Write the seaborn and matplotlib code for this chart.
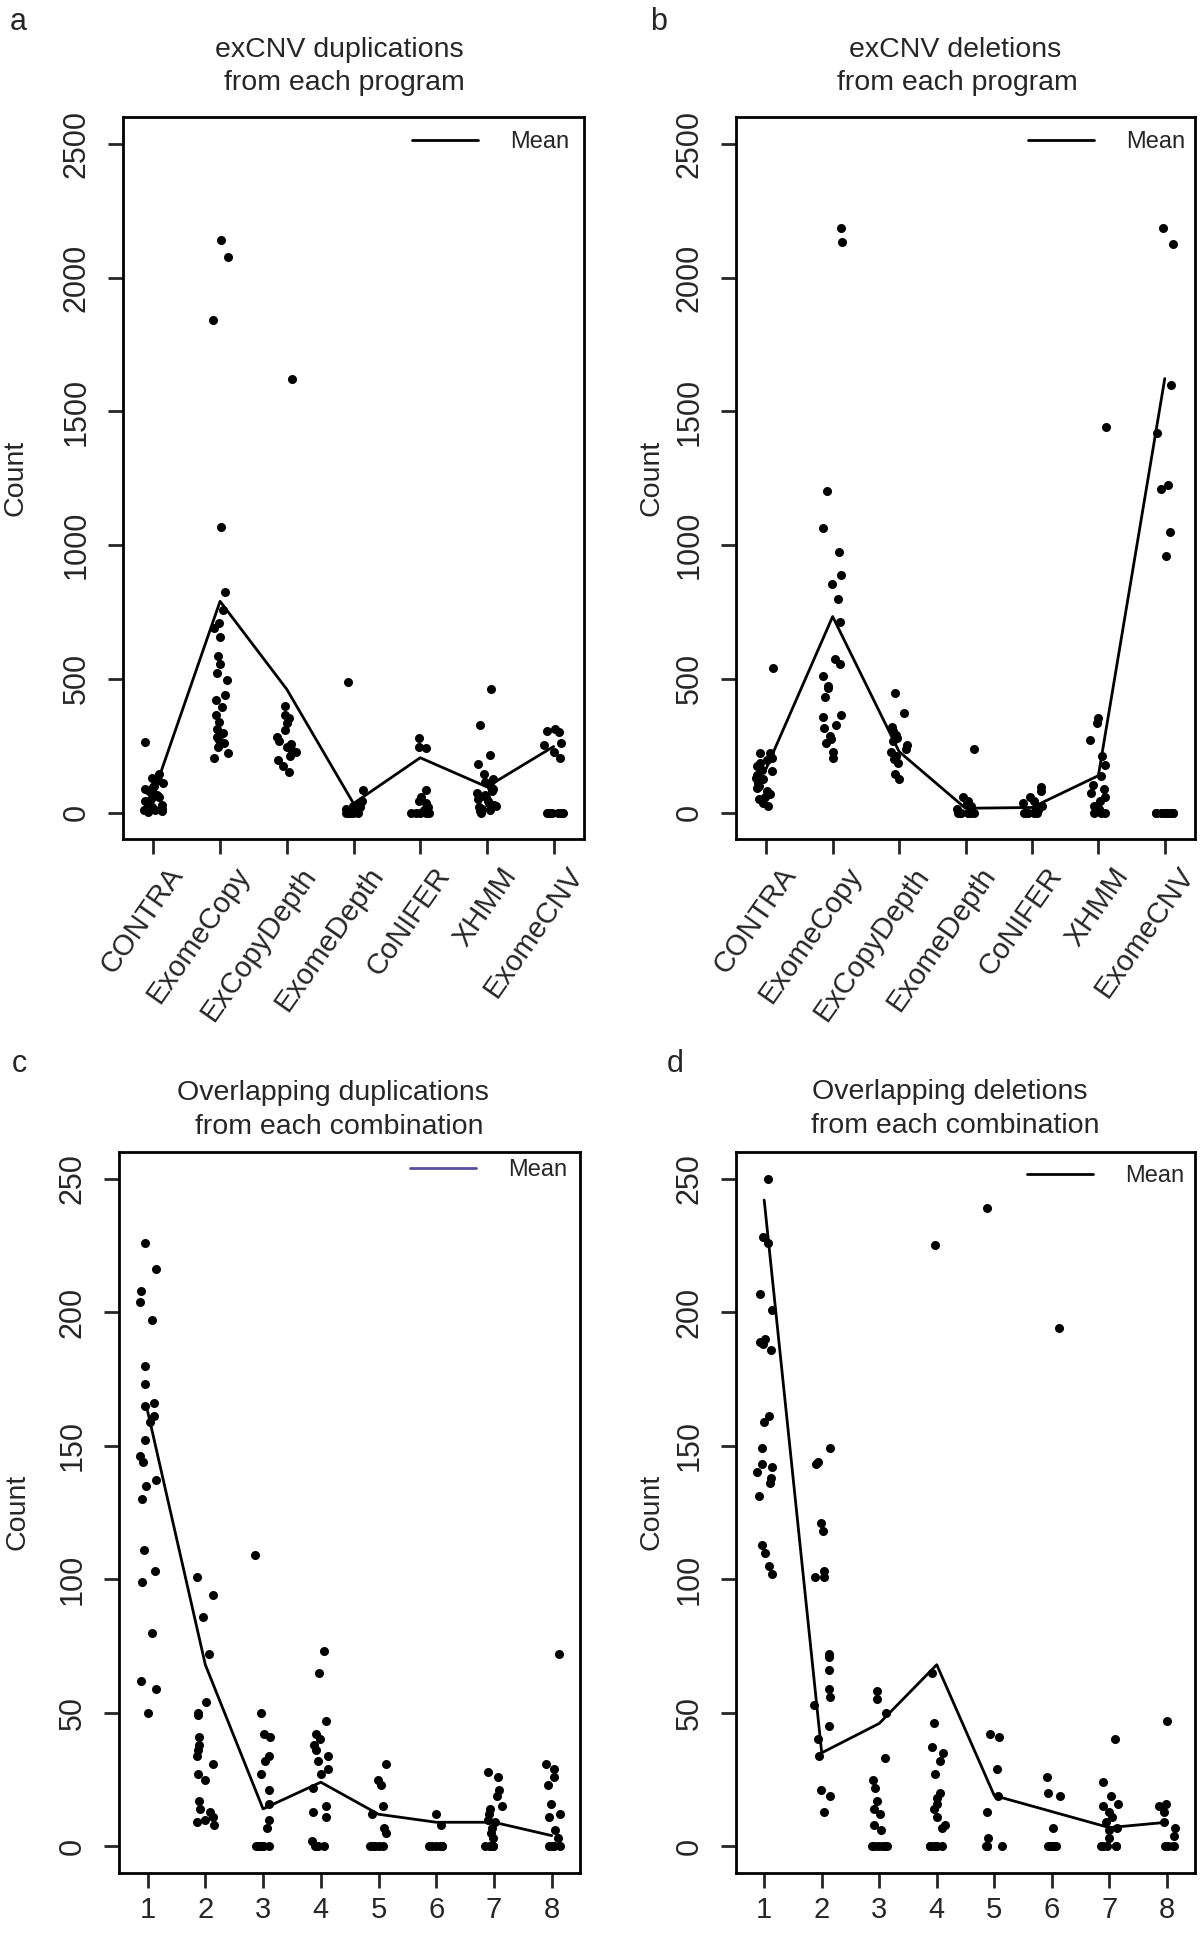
import matplotlib
matplotlib.use("Agg")
import matplotlib.pyplot as plt
import seaborn as sns
import pandas as pd
import numpy as np
from matplotlib.lines import Line2D
from matplotlib.transforms import ScaledTranslation

# --- data -----------------------------------------------------------------
programs = ["CONTRA", "ExomeCopy", "ExCopyDepth", "ExomeDepth", "CoNIFER", "XHMM", "ExomeCNV"]
combos = ["1", "2", "3", "4", "5", "6", "7", "8"]

# a: exCNV duplications per program (one list per program, same order as programs)
dup_counts = [
    [262, 145, 130, 120, 110, 100, 95, 88, 80, 72, 65, 58, 50, 45, 38, 30, 25, 20, 15, 10, 8, 5, 3],
    [2141, 2079, 1842, 1067, 825, 759, 710, 690, 655, 585, 554, 523, 497, 438, 420, 396, 363, 339,
     311, 298, 283, 270, 259, 247, 224, 205],
    [1620, 399, 363, 352, 334, 309, 283, 267, 256, 247, 236, 228, 213, 197, 174, 151],
    [488, 84, 45, 34, 25, 20, 12, 8, 5, 0, 0, 0, 0, 0, 0, 0],
    [280, 244, 240, 85, 60, 45, 35, 20, 10, 5, 0, 0, 0, 0, 0, 0],
    [461, 326, 216, 182, 143, 127, 115, 105, 96, 88, 81, 73, 65, 57, 50, 42, 35, 30, 24, 19, 12, 8, 4, 0],
    [314, 305, 300, 259, 252, 228, 205, 0, 0, 0, 0, 0, 0, 0, 0],
]
dup_means = [70, 790, 461, 34, 205, 96, 247]

# b: exCNV deletions per program
del_counts = [
    [539, 224, 221, 205, 197, 185, 174, 160, 154, 140, 130, 127, 112, 100, 92, 81, 70, 57, 50, 35, 23],
    [2185, 2134, 1202, 1064, 974, 888, 854, 798, 713, 573, 554, 511, 474, 466, 433, 363, 356, 329,
     317, 286, 275, 259, 228, 205],
    [446, 373, 321, 306, 290, 278, 267, 252, 236, 228, 213, 200, 185, 143, 124],
    [236, 57, 45, 34, 23, 12, 5, 0, 0, 0, 0, 0, 0, 0],
    [96, 81, 57, 45, 34, 23, 11, 5, 0, 0, 0, 0, 0, 0],
    [1440, 352, 334, 270, 213, 179, 135, 104, 88, 73, 57, 42, 26, 14, 0, 0, 0],
    [2185, 2126, 1598, 1420, 1225, 1210, 1048, 958, 0, 0, 0, 0, 0, 0, 0, 0, 0, 0],
]
del_means = [165, 733, 228, 16, 19, 138, 1623]

# c: overlapping duplications per combination size
ovl_dup_counts = [
    [226, 216, 208, 204, 197, 180, 173, 166, 165, 161, 159, 152, 146, 144, 137, 135, 130, 111, 103,
     99, 80, 62, 59, 50],
    [101, 94, 86, 72, 54, 50, 49, 41, 38, 36, 34, 31, 27, 25, 17, 14, 13, 11, 10, 9, 8],
    [109, 50, 42, 41, 34, 32, 27, 21, 16, 10, 7, 0, 0, 0, 0, 0, 0],
    [73, 65, 47, 42, 40, 38, 36, 34, 32, 29, 27, 22, 15, 13, 11, 2, 0, 0, 0],
    [31, 25, 23, 15, 12, 7, 5, 0, 0, 0, 0, 0],
    [12, 8, 0, 0, 0, 0, 0, 0],
    [28, 26, 21, 19, 15, 14, 12, 10, 9, 7, 5, 3, 0, 0, 0, 0, 0],
    [72, 31, 29, 26, 23, 16, 12, 11, 6, 3, 0, 0, 0, 0],
]
ovl_dup_means = [163, 68, 14, 24, 12, 9, 9, 4]

# d: overlapping deletions per combination size
ovl_del_counts = [
    [250, 228, 226, 207, 201, 190, 189, 188, 186, 161, 159, 149, 143, 142, 140, 138, 136, 131, 113,
     110, 105, 102],
    [149, 144, 143, 121, 118, 103, 101, 101, 72, 71, 66, 59, 56, 53, 45, 40, 34, 21, 19, 13],
    [58, 55, 50, 33, 25, 22, 17, 14, 12, 8, 6, 0, 0, 0, 0, 0, 0],
    [225, 65, 46, 37, 35, 32, 27, 20, 18, 16, 14, 11, 8, 7, 0, 0, 0, 0, 0, 0],
    [239, 42, 41, 29, 19, 13, 3, 0, 0, 0, 0],
    [194, 26, 20, 19, 7, 0, 0, 0, 0, 0, 0],
    [40, 24, 19, 16, 15, 13, 11, 9, 7, 6, 3, 0, 0, 0, 0, 0],
    [47, 16, 15, 13, 9, 7, 4, 0, 0, 0, 0],
]
ovl_del_means = [242, 35, 46, 68, 19, 13, 7, 9]

# --- style ----------------------------------------------------------------
sns.set_style("ticks")
plt.rcParams["font.family"] = ["Liberation Sans", "DejaVu Sans"]
plt.rcParams["axes.edgecolor"] = "black"
plt.rcParams["axes.linewidth"] = 2

W, H = 1200, 1935
fig = plt.figure(figsize=(W / 100, H / 100), dpi=100)
np.random.seed(7)


def px_axes(left, top, right, bottom):
    return fig.add_axes([left / W, 1 - bottom / H, (right - left) / W, (bottom - top) / H])


def draw_panel(ax, cats, values, means, ylim, yticks, legend_xy, legend_color, rotated):
    rows = [(c, v) for c, vals in zip(cats, values) for v in vals]
    df = pd.DataFrame(rows, columns=["group", "count"])
    sns.stripplot(data=df, x="group", y="count", order=cats, color="black", size=6.5,
                  jitter=0.15, linewidth=0, ax=ax, zorder=3)
    sns.lineplot(x=np.arange(len(cats)), y=means, color="black", lw=2, ax=ax, legend=False, zorder=2)

    n = len(cats)
    pad_x = 0.455 if n == 7 else 0.49
    ax.set_xlim(-pad_x, n - 1 + pad_x)
    ax.set_ylim(*ylim)
    ax.set_xlabel("")
    ax.set_ylabel("")
    ax.set_yticks(yticks)
    ax.set_yticklabels([str(t) for t in yticks], rotation=90, va="center")
    ax.tick_params(axis="y", direction="out", length=10.8, width=2, labelsize=22, pad=12)
    ax.set_xticks(np.arange(n))
    if rotated:
        ax.set_xticklabels(cats, rotation=55, ha="right", va="center",
                           rotation_mode="anchor", fontsize=21)
        ax.tick_params(axis="x", direction="out", length=10.8, width=2, pad=11.5)
        shift = ScaledTranslation(0.24, 0, fig.dpi_scale_trans)
        for lab in ax.get_xticklabels():
            lab.set_transform(lab.get_transform() + shift)
    else:
        ax.set_xticklabels(cats, fontsize=21)
        ax.tick_params(axis="x", direction="out", length=10.8, width=2, pad=6)
    for sp in ax.spines.values():
        sp.set_visible(True)
        sp.set_linewidth(2)
        sp.set_color("black")

    handle = Line2D([], [], color=legend_color, lw=2)
    ax.legend([handle], ["Mean"], loc="center right", bbox_to_anchor=legend_xy, frameon=False,
              fontsize=17, handlelength=2.78, handletextpad=1.36, borderpad=0, borderaxespad=0)


ax_a = px_axes(123, 117.3, 584, 839.3)
ax_b = px_axes(736, 117.3, 1195, 839.3)
ax_c = px_axes(119.3, 1152, 580, 1873)
ax_d = px_axes(736, 1152, 1195, 1873)

big_ticks = [0, 500, 1000, 1500, 2000, 2500]
small_ticks = [0, 50, 100, 150, 200, 250]

draw_panel(ax_a, programs, dup_counts, dup_means, (-100, 2600), big_ticks, (0.9675, 0.966), "black", True)
draw_panel(ax_b, programs, del_counts, del_means, (-100, 2600), big_ticks, (0.978, 0.966), "black", True)
draw_panel(ax_c, combos, ovl_dup_counts, ovl_dup_means, (-10, 260), small_ticks, (0.972, 0.975), "#55519c", False)
draw_panel(ax_d, combos, ovl_del_counts, ovl_del_means, (-10, 260), small_ticks, (0.976, 0.967), "black", False)


def ftext(x, y, s, **kw):
    fig.text(x / W, 1 - y / H, s, **kw)


# titles (two lines each)
ftext(339, 57, "exCNV duplications", fontsize=20.5, ha="center", va="baseline")
ftext(344, 89.5, "from each program", fontsize=20.5, ha="center", va="baseline")
ftext(955, 57, "exCNV deletions", fontsize=20.5, ha="center", va="baseline")
ftext(957, 89.5, "from each program", fontsize=20.5, ha="center", va="baseline")
ftext(332.5, 1100, "Overlapping duplications", fontsize=20.5, ha="center", va="baseline")
ftext(339, 1134, "from each combination", fontsize=20.5, ha="center", va="baseline")
ftext(950, 1099, "Overlapping deletions", fontsize=20.5, ha="center", va="baseline")
ftext(955, 1133, "from each combination", fontsize=20.5, ha="center", va="baseline")

# y axis labels
for x, y in [(15, 478), (652, 478), (18, 1512), (652, 1512)]:
    ftext(x, y, "Count", fontsize=20.5, rotation=90, ha="center", va="center")

# panel letters
for x, y, s in [(10, 30, "a"), (650, 30, "b"), (12, 1072, "c"), (667, 1072, "d")]:
    ftext(x, y, s, fontsize=22, ha="left", va="baseline")

fig.savefig("out.png", dpi=100)
